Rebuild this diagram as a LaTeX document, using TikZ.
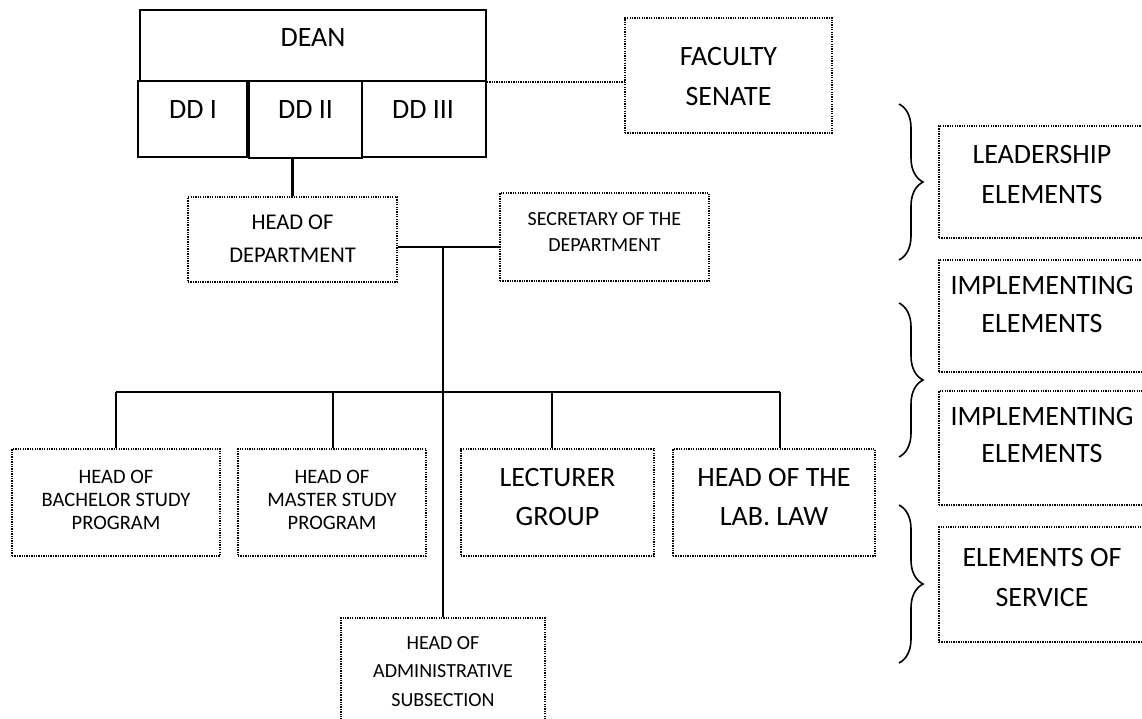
\documentclass[tikz,border=0pt]{standalone}
\usepackage{fontspec}
\setmainfont{Carlito}
\usetikzlibrary{decorations.pathreplacing}
\begin{document}
\begin{tikzpicture}[x=1pt,y=-1pt,
  solidbox/.style={draw,line width=1.7pt,inner sep=0pt,anchor=center},
  dotline/.style={line width=1.7pt,dash pattern=on 1.3pt off 1.1pt},
  dotbox/.style={draw,dotline,inner sep=0pt,anchor=center},
  link/.style={line width=2.1pt},
  bigtxt/.style={font={\fontsize{28pt}{40pt}\selectfont},align=center,inner sep=0pt},
  hodtxt/.style={font={\fontsize{22.5pt}{33pt}\selectfont},align=center,inner sep=0pt},
  sectxt/.style={font={\fontsize{20pt}{26pt}\selectfont},align=center,inner sep=0pt},
  smalltxt/.style={font={\fontsize{20.5pt}{23pt}\selectfont},align=center,inner sep=0pt},
  admtxt/.style={font={\fontsize{20pt}{28.5pt}\selectfont},align=center,inner sep=0pt},
  bracestyle/.style={decorate,decoration={brace,amplitude=24pt},line width=1.6pt}
]
\clip (0,0) rectangle (1142,718);
\fill[white] (0,0) rectangle (1142,718);

% Dean group
\node[solidbox,minimum width=346pt,minimum height=71pt] (dean) at (313,45.5) {};
\node[bigtxt] (deant) at (313,38) {DEAN};
\node[solidbox,minimum width=109pt,minimum height=76pt] (dd1) at (192.5,119) {};
\node[solidbox,minimum width=113pt,minimum height=77pt] (dd2) at (305.5,119.5) {};
\node[solidbox,minimum width=124pt,minimum height=76pt] (dd3) at (424,119) {};
\node[bigtxt] (dd1t) at (193,110) {DD I};
\node[bigtxt] (dd2t) at (305.5,110) {DD II};
\node[bigtxt] (dd3t) at (423,110) {DD III};

% Faculty senate
\node[dotbox,minimum width=207pt,minimum height=115pt] (senate) at (728.5,75.5) {};
\node[bigtxt] (senatet) at (728.5,77) {FACULTY\\SENATE};

% Head of department and secretary
\node[dotbox,minimum width=209pt,minimum height=85pt] (hod) at (292.5,239.5) {};
\node[hodtxt] (hodt) at (292.5,238.5) {HEAD OF\\DEPARTMENT};
\node[dotbox,minimum width=209pt,minimum height=88pt] (sec) at (604.5,237) {};
\node[sectxt] (sect) at (604.5,232) {SECRETARY OF THE\\DEPARTMENT};

% Bottom row
\node[dotbox,minimum width=208pt,minimum height=107pt] (bach) at (116,502.5) {};
\node[smalltxt] (bacht) at (116,500) {HEAD OF\\BACHELOR STUDY\\PROGRAM};
\node[dotbox,minimum width=188pt,minimum height=107pt] (mast) at (332,502.5) {};
\node[smalltxt] (mastt) at (332,500) {HEAD OF\\MASTER STUDY\\PROGRAM};
\node[dotbox,minimum width=193pt,minimum height=107pt] (lect) at (557.5,502.5) {};
\node[bigtxt,font={\fontsize{28pt}{39pt}\selectfont}] (lectt) at (557.5,497.5) {LECTURER\\GROUP};
\node[dotbox,minimum width=202pt,minimum height=107pt] (lab) at (774,502.5) {};
\node[bigtxt,font={\fontsize{28pt}{39pt}\selectfont}] (labt) at (774,497.5) {HEAD OF THE\\LAB. LAW};

% Administrative subsection (cut off at the bottom)
\node[dotbox,minimum width=204pt,minimum height=130pt] (adm) at (443,683) {};
\node[admtxt] (admt) at (443,671.5) {HEAD OF\\ADMINISTRATIVE\\SUBSECTION};

% Right-side element boxes (cut off at the right)
\node[dotbox,minimum width=220pt,minimum height=112pt] (lead) at (1049,182) {};
\node[bigtxt] (leadt) at (1042,175) {LEADERSHIP\\ELEMENTS};
\node[dotbox,minimum width=220pt,minimum height=112pt] (imp1) at (1049,316) {};
\node[bigtxt,font={\fontsize{28pt}{38pt}\selectfont}] (imp1t) at (1042,305) {IMPLEMENTING\\ELEMENTS};
\node[dotbox,minimum width=220pt,minimum height=114pt] (imp2) at (1049,448) {};
\node[bigtxt,font={\fontsize{28pt}{37pt}\selectfont}] (imp2t) at (1042,435) {IMPLEMENTING\\ELEMENTS};
\node[dotbox,minimum width=220pt,minimum height=115pt] (serv) at (1049,584.5) {};
\node[bigtxt] (servt) at (1042,577) {ELEMENTS OF\\SERVICE};

% Braces
\coordinate (br1a) at (899,104);
\coordinate (br1b) at (899,260);
\coordinate (br2a) at (899,303);
\coordinate (br2b) at (899,457);
\coordinate (br3a) at (899,505);
\coordinate (br3b) at (899,663);
\draw[bracestyle] (br1a) -- (br1b);
\draw[bracestyle] (br2a) -- (br2b);
\draw[bracestyle] (br3a) -- (br3b);

% Connectors
\draw[dotline] (dean.south east) -- (senate.west |- dean.south east);
\draw[link] (hod.north |- dd2.south) -- (hod.north);
\coordinate (j) at (443,247);
\draw[link] (hod.east |- j) -- (sec.west |- j);
\draw[link] (j) -- (adm.north);
\coordinate (b1) at (116,392);
\coordinate (b2) at (333,392);
\coordinate (b3) at (552,392);
\coordinate (b4) at (780,392);
\draw[link] (b1) -- (b4);
\draw[link] (b1) -- (b1 |- bach.north);
\draw[link] (b2) -- (b2 |- mast.north);
\draw[link] (b3) -- (b3 |- lect.north);
\draw[link] (b4) -- (b4 |- lab.north);
\end{tikzpicture}
\end{document}
